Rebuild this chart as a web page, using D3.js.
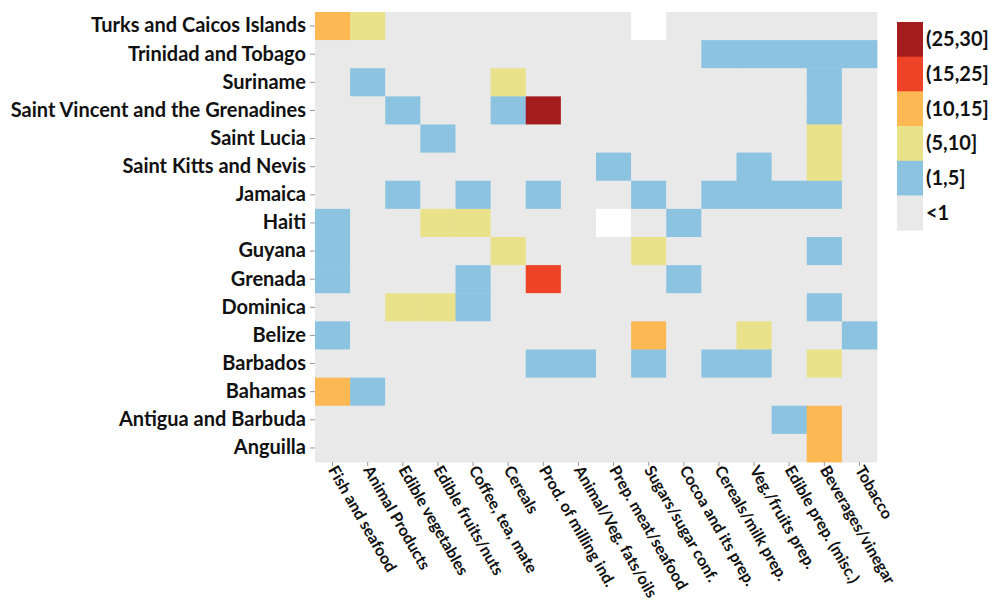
<!DOCTYPE html>
<html>
<head>
<meta charset="utf-8">
<script src="https://cdn.jsdelivr.net/npm/d3@7"></script>
<style>
  html, body { margin: 0; padding: 0; background: #ffffff; }
  svg { display: block; }
  text { font-family: Lato, "Open Sans", sans-serif; font-weight: 700; fill: #111111; }
</style>
</head>
<body>
<svg id="chart" width="995" height="611"></svg>
<script>
// ---------- DATA ----------
const countries = [
  "Turks and Caicos Islands", "Trinidad and Tobago", "Suriname",
  "Saint Vincent and the Grenadines", "Saint Lucia", "Saint Kitts and Nevis",
  "Jamaica", "Haiti", "Guyana", "Grenada", "Dominica", "Belize",
  "Barbados", "Bahamas", "Antigua and Barbuda", "Anguilla"
];
const products = [
  "Fish and seafood", "Animal Products", "Edible vegetables", "Edible fruits/nuts",
  "Coffee, tea, mate", "Cereals", "Prod. of milling ind.", "Animal/Veg. fats/oils",
  "Prep. meat/seafood", "Sugars/sugar conf.", "Cocoa and its prep.", "Cereals/milk prep.",
  "Veg./fruits prep.", "Edible prep. (misc.)", "Beverages/vinegar", "Tobacco"
];
// share values (%) per country, one entry per product (null = no data)
const values = [
  [12, 7, .5, .5, .5, .5, .5, .5, .5, null, .5, .5, .5, .5, .5, .5],  // Turks and Caicos
  [.5, .5, .5, .5, .5, .5, .5, .5, .5, .5, .5, 3, 3, 3, 3, 3],        // Trinidad and Tobago
  [.5, 3, .5, .5, .5, 7, .5, .5, .5, .5, .5, .5, .5, .5, 3, .5],      // Suriname
  [.5, .5, 3, .5, .5, 3, 28, .5, .5, .5, .5, .5, .5, .5, 3, .5],      // Saint Vincent
  [.5, .5, .5, 3, .5, .5, .5, .5, .5, .5, .5, .5, .5, .5, 7, .5],     // Saint Lucia
  [.5, .5, .5, .5, .5, .5, .5, .5, 3, .5, .5, .5, 3, .5, 7, .5],      // Saint Kitts and Nevis
  [.5, .5, 3, .5, 3, .5, 3, .5, .5, 3, .5, 3, 3, 3, 3, .5],           // Jamaica
  [3, .5, .5, 7, 7, .5, .5, .5, null, .5, 3, .5, .5, .5, .5, .5],     // Haiti
  [3, .5, .5, .5, .5, 7, .5, .5, .5, 7, .5, .5, .5, .5, 3, .5],       // Guyana
  [3, .5, .5, .5, 3, .5, 20, .5, .5, .5, 3, .5, .5, .5, .5, .5],      // Grenada
  [.5, .5, 7, 7, 3, .5, .5, .5, .5, .5, .5, .5, .5, .5, 3, .5],       // Dominica
  [3, .5, .5, .5, .5, .5, .5, .5, .5, 12, .5, .5, 7, .5, .5, 3],      // Belize
  [.5, .5, .5, .5, .5, .5, 3, 3, .5, 3, .5, 3, 3, .5, 7, .5],         // Barbados
  [12, 3, .5, .5, .5, .5, .5, .5, .5, .5, .5, .5, .5, .5, .5, .5],    // Bahamas
  [.5, .5, .5, .5, .5, .5, .5, .5, .5, .5, .5, .5, .5, 3, 12, .5],    // Antigua and Barbuda
  [.5, .5, .5, .5, .5, .5, .5, .5, .5, .5, .5, .5, .5, .5, 12, .5]    // Anguilla
];
const binThresholds = [1, 5, 10, 15, 25];
const binLabels = ["<1", "(1,5]", "(5,10]", "(10,15]", "(15,25]", "(25,30]"];
const binColors = ["#e9e9e9", "#8cc3e1", "#e9e28b", "#fcb852", "#ee4326", "#a51c1e"];

// ---------- LAYOUT ----------
const svg = d3.select("#chart");
const plot = { left: 315, right: 877, top: 12, bottom: 462 };

const x = d3.scaleBand().domain(products).range([plot.left, plot.right]).padding(0);
const y = d3.scaleBand().domain(countries).range([plot.top, plot.bottom]).padding(0);
const color = d3.scaleThreshold().domain(binThresholds).range(binColors);

// background of plot
svg.append("rect")
  .attr("x", plot.left).attr("y", plot.top)
  .attr("width", plot.right - plot.left).attr("height", plot.bottom - plot.top)
  .attr("fill", binColors[0]);

const cells = [];
countries.forEach((c, i) => products.forEach((p, j) => cells.push({ c, p, v: values[i][j] })));

svg.append("g").selectAll("rect").data(cells).join("rect")
  .attr("x", d => x(d.p))
  .attr("y", d => y(d.c))
  .attr("width", x.bandwidth() + 0.4)
  .attr("height", y.bandwidth() + 0.4)
  .attr("fill", d => d.v == null ? "#ffffff" : color(d.v));

// ---------- AXES ----------
const yAxis = svg.append("g")
  .attr("transform", `translate(${plot.left},0)`)
  .call(d3.axisLeft(y).tickSize(5).tickPadding(4));
yAxis.select(".domain").remove();
yAxis.selectAll(".tick line").attr("stroke", "#999");
yAxis.selectAll(".tick text")
  .attr("font-size", 20).attr("font-family", "Lato, sans-serif").attr("font-weight", 700).attr("fill", "#111");

const xAxis = svg.append("g")
  .attr("transform", `translate(0,${plot.bottom})`)
  .call(d3.axisBottom(x).tickSize(4).tickPadding(0));
xAxis.select(".domain").remove();
xAxis.selectAll(".tick line").attr("stroke", "#999");
xAxis.selectAll(".tick text")
  .attr("font-size", 16).attr("font-family", "Lato, sans-serif").attr("font-weight", 700).attr("fill", "#111")
  .attr("text-anchor", "start")
  .attr("x", 0).attr("y", 0).attr("dy", "0.35em")
  .attr("transform", "translate(0,5) rotate(60)");

// ---------- LEGEND ----------
const legend = { x: 897, y: 22, w: 26, h: 34.7 };
const legendBins = binLabels.map((l, i) => ({ label: l, color: binColors[i] })).reverse();
const lg = svg.append("g");
lg.selectAll("rect").data(legendBins).join("rect")
  .attr("x", legend.x).attr("y", (d, i) => legend.y + i * legend.h)
  .attr("width", legend.w).attr("height", legend.h + 0.4)
  .attr("fill", d => d.color);
lg.selectAll("text").data(legendBins).join("text")
  .attr("x", legend.x + legend.w + 3)
  .attr("y", (d, i) => legend.y + i * legend.h + legend.h / 2)
  .attr("dy", "0.35em")
  .attr("font-size", 20)
  .text(d => d.label);
</script>
</body>
</html>
